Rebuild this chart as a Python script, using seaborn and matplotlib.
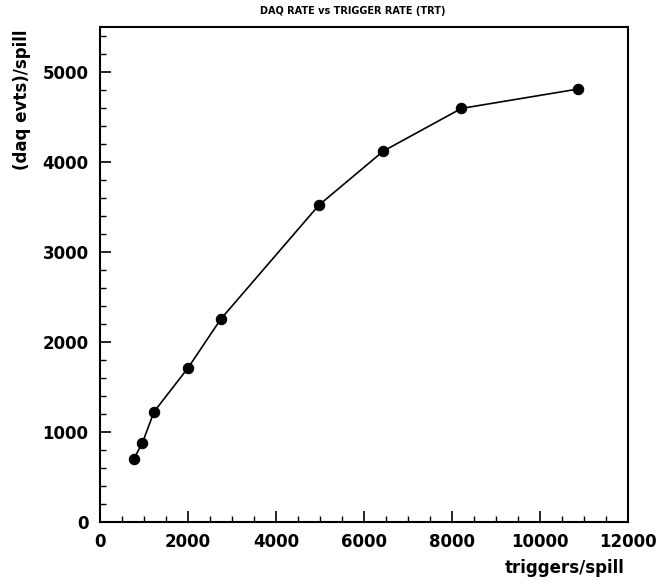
import numpy as np
import pandas as pd
import matplotlib
matplotlib.use("Agg")
import matplotlib.pyplot as plt
from matplotlib.ticker import MultipleLocator
import seaborn as sns

# triggers per spill vs daq events per spill
triggers = [773, 970, 1234, 2007, 2750, 4977, 6439, 8211, 10856]
daq_evts = [700, 881, 1226, 1714, 2256, 3522, 4122, 4596, 4811]

data = pd.DataFrame({"triggers": triggers, "daq": daq_evts})

sns.set_style("ticks")
plt.rcParams["font.family"] = ["DejaVu Sans"]
plt.rcParams["text.color"] = "black"
plt.rcParams["xtick.color"] = "black"
plt.rcParams["ytick.color"] = "black"

fig = plt.figure(figsize=(6.6, 5.88), dpi=100)
ax = fig.add_axes([0.151, 0.112, 0.801, 0.842])

sns.lineplot(data=data, x="triggers", y="daq", ax=ax, color="black",
             linewidth=1.2, marker="o", markersize=7.5, markeredgecolor="black",
             sort=False)

ax.set_xlim(0, 12000)
ax.set_ylim(0, 5500)
ax.xaxis.set_major_locator(MultipleLocator(2000))
ax.xaxis.set_minor_locator(MultipleLocator(500))
ax.yaxis.set_major_locator(MultipleLocator(1000))
ax.yaxis.set_minor_locator(MultipleLocator(200))
ax.tick_params(which="major", direction="in", length=8, width=1.2,
               labelsize=12, pad=8, colors="black")
ax.tick_params(which="minor", direction="in", length=4, width=1.0,
               colors="black")
for lbl in ax.get_xticklabels() + ax.get_yticklabels():
    lbl.set_fontweight("bold")

for sp in ax.spines.values():
    sp.set_visible(True)
    sp.set_linewidth(1.5)
    sp.set_color("black")

ax.set_xlabel("")
ax.set_ylabel("")
fig.text(0.947, 0.018, "triggers/spill", ha="right", va="bottom",
         fontsize=12, fontweight="bold", color="black")
fig.text(0.033, 0.95, "(daq evts)/spill", ha="center", va="top",
         rotation=90, fontsize=12, fontweight="bold", color="black")
fig.text(0.535, 0.972, "DAQ RATE vs TRIGGER RATE (TRT)", ha="center",
         va="bottom", fontsize=7, fontweight="bold", color="black")

fig.savefig("out.png", dpi=100)
